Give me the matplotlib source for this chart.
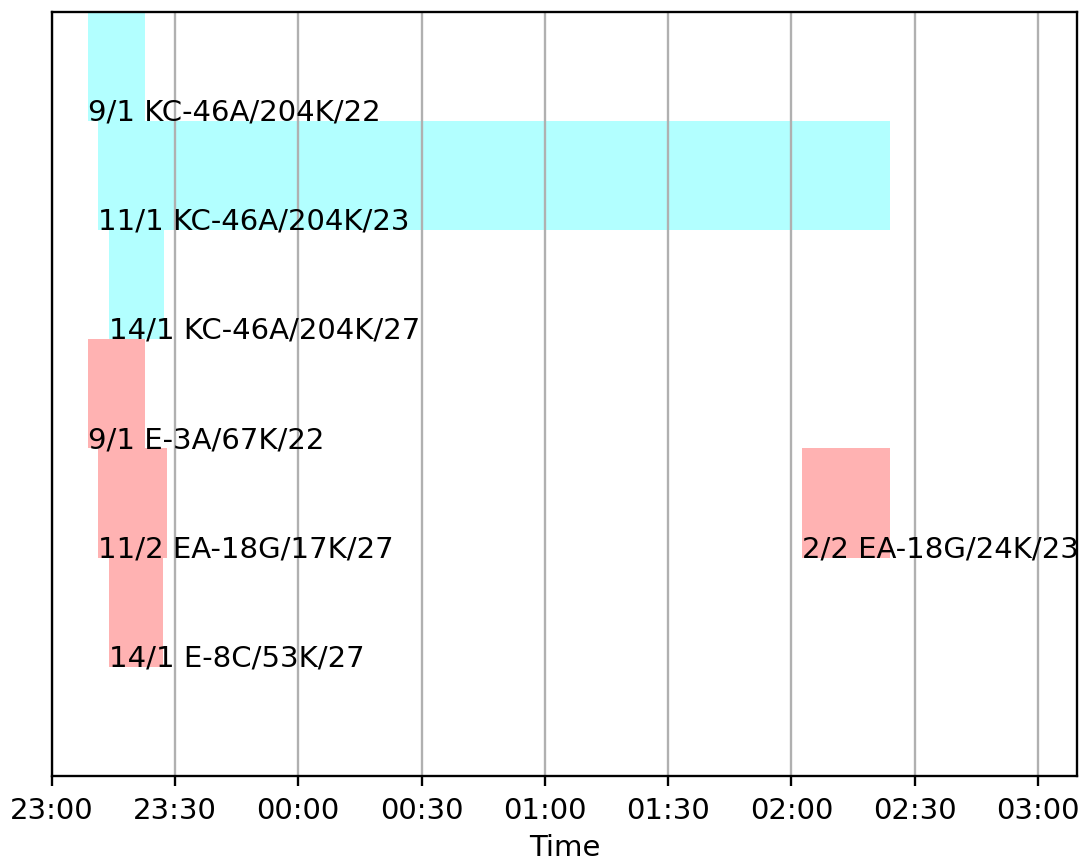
import datetime as dt
import matplotlib
matplotlib.use('Agg')
import matplotlib.pyplot as plt
import matplotlib.dates as mdates

# flight data: label, row, start, end, type
labels = ['9/1 KC-46A/204K/22', '11/1 KC-46A/204K/23', '14/1 KC-46A/204K/27',
          '9/1 E-3A/67K/22', '11/2 EA-18G/17K/27', '2/2 EA-18G/24K/23',
          '14/1 E-8C/53K/27']
rows = [0, 1, 2, 3, 4, 4, 5]
starts = ['23:08:45', '23:11:20', '23:14:00', '23:08:45', '23:11:20', '02:02:40', '23:14:00']
ends = ['23:22:40', '02:24:00', '23:27:20', '23:22:40', '23:28:00', '02:24:00', '23:27:10']
kinds = ['tanker', 'tanker', 'tanker', 'escort', 'escort', 'escort', 'escort']
xrange_t = ['23:00:00', '03:09:30']

colors = {'tanker': 'cyan', 'escort': 'red'}

#function to turn a clock string into a datetime (times after midnight go to next day)
def totime(s):
    t = dt.datetime.strptime(s, '%H:%M:%S')
    d = dt.datetime(2023, 1, 1, t.hour, t.minute, t.second)
    if t.hour < 12:
        d = d + dt.timedelta(days=1)
    return d

fig = plt.figure(figsize=(1083/210., 862/210.), dpi=210)
ax = fig.add_axes([0.0477, 0.0986, 0.9468, 0.8867])

for lab, r, s, e, k in zip(labels, rows, starts, ends, kinds):
    t0 = mdates.date2num(totime(s))
    t1 = mdates.date2num(totime(e))
    ax.barh(r, t1 - t0, left=t0, height=1, align='edge',
            color=colors[k], alpha=0.3, linewidth=0)
    # label sits just above the lower edge of its bar
    ax.text(t0, r + 1 - 0.012, lab, ha='left', va='baseline', fontsize=10)

ax.set_ylim(7, 0)
ax.set_yticks([])
ax.set_xlim(mdates.date2num(totime(xrange_t[0])), mdates.date2num(totime(xrange_t[1])))
ax.xaxis.set_major_locator(mdates.MinuteLocator(byminute=[0, 30]))
ax.xaxis.set_major_formatter(mdates.DateFormatter('%H:%M'))
ax.grid(True, axis='x')
ax.set_xlabel('Time', labelpad=3)

fig.savefig('out.png', dpi=210)
